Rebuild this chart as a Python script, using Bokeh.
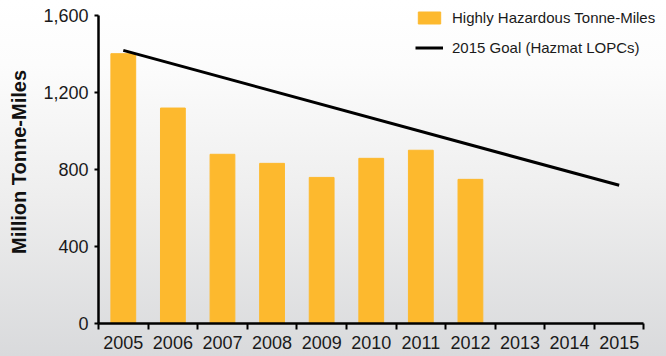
from bokeh.plotting import figure
from bokeh.models import Range1d, FixedTicker, NumeralTickFormatter, Legend, LegendItem
from bokeh.embed import file_html
from bokeh.resources import INLINE

# ---- data ----
years = [2005, 2006, 2007, 2008, 2009, 2010, 2011, 2012]
tonne_miles = [1400, 1118, 878, 831, 758, 857, 899, 748]
goal_years = [2005, 2015]
goal_values = [1417, 717]
axis_years = list(range(2005, 2016))
y_ticks = [0, 400, 800, 1200, 1600]

BAR = "#FDB92E"
FONT = "Liberation Sans"

x_lo, x_hi = axis_years[0] - 0.5, axis_years[-1] + 0.5

p = figure(width=666, height=356, output_backend="svg", toolbar_location=None,
           x_range=Range1d(x_lo, x_hi + 0.454),
           y_range=Range1d(0, y_ticks[-1] + 76),
           min_border_left=98, min_border_top=0, min_border_right=0, min_border_bottom=33,
           styles={"background": "linear-gradient(to bottom, #ffffff 0%, #fcfcfc 18%, #eeeeee 55%, #d9dadc 100%)"})
p.background_fill_color = None
p.border_fill_color = None
p.outline_line_color = None
p.grid.visible = False

bars = p.vbar(x=years, top=tonne_miles, width=0.5, color=BAR)
goal = p.line(x=goal_years, y=goal_values, line_color="black", line_width=3)

# x axis: labels at year centres, ticks at boundaries
xa = p.xaxis[0]
xa.bounds = (x_lo, x_hi)
xa.ticker = FixedTicker(ticks=axis_years, minor_ticks=[y - 0.5 for y in axis_years] + [x_hi])
xa.major_label_overrides = {y: str(y) for y in axis_years}
xa.major_tick_line_color = None
xa.major_tick_out = 0
xa.major_tick_in = 0
xa.minor_tick_line_color = "black"
xa.minor_tick_line_width = 2
xa.minor_tick_out = 6
xa.minor_tick_in = 0
xa.axis_line_color = "black"
xa.axis_line_width = 2.5
xa.major_label_text_font = FONT
xa.major_label_text_font_size = "18px"
xa.major_label_text_color = "#1a1a1a"
xa.major_label_standoff = 6

ya = p.yaxis[0]
ya.bounds = (y_ticks[0], y_ticks[-1])
ya.ticker = FixedTicker(ticks=y_ticks)
ya.formatter = NumeralTickFormatter(format="0,0")
ya.minor_tick_line_color = None
ya.major_tick_line_color = "black"
ya.major_tick_line_width = 2
ya.major_tick_out = 4
ya.major_tick_in = 0
ya.axis_line_color = "black"
ya.axis_line_width = 2.5
ya.major_label_text_font = FONT
ya.major_label_text_font_size = "18px"
ya.major_label_text_color = "#1a1a1a"
ya.major_label_standoff = 6
ya.axis_label = "Million Tonne-Miles"
ya.axis_label_text_font = FONT
ya.axis_label_text_font_size = "20px"
ya.axis_label_text_font_style = "bold"
ya.axis_label_text_color = "#111111"
ya.axis_label_standoff = 10

legend = Legend(items=[LegendItem(label="Highly Hazardous Tonne-Miles", renderers=[bars]),
                       LegendItem(label="2015 Goal (Hazmat LOPCs)", renderers=[goal])],
                location=(317, 267), orientation="vertical",
                glyph_width=28, glyph_height=15, label_height=16, label_standoff=9,
                spacing=13, padding=0, margin=0,
                label_text_font=FONT, label_text_font_size="15px", label_text_color="#1a1a1a",
                background_fill_alpha=0, border_line_color=None)
p.add_layout(legend)

open("out.html", "w").write(file_html(p, INLINE))
